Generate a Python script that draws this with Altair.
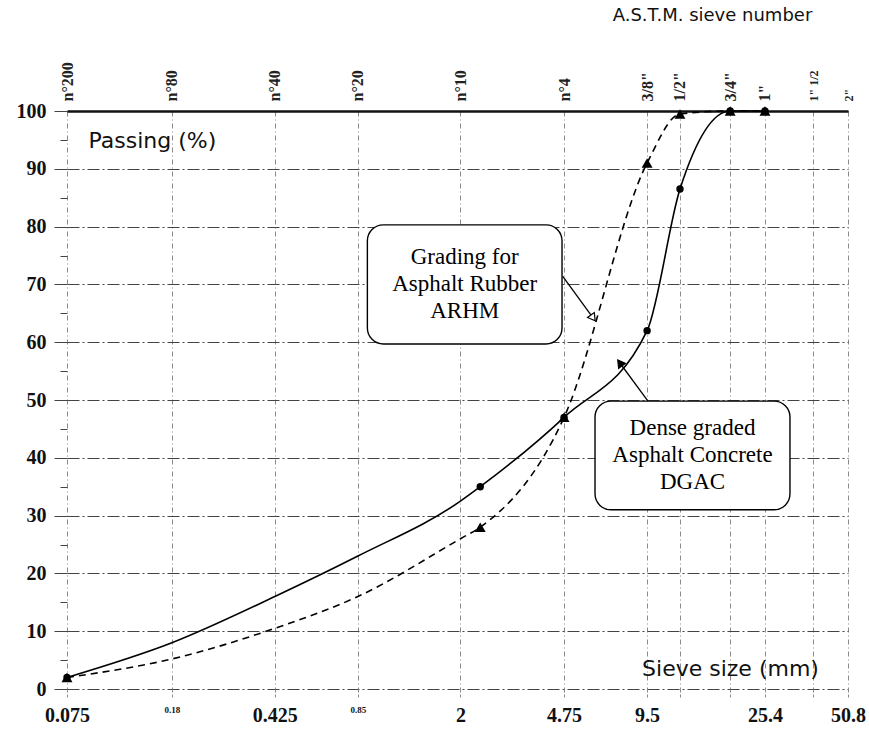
import math
import altair as alt
import pandas as pd

# ---------------- data ----------------
sieve_mm = [0.075, 0.18, 0.425, 0.85, 2, 2.36, 4.75, 9.5, 12.5, 19, 25.4]
dgac_pct = [2, 8, 16, 23, 32.5, 35, 47, 62, 86.5, 100, 100]
arhm_pct = [2, 5.2, 10.5, 16, 26, 28, 47, 91, 99.5, 100, 100]
measured = [True, False, False, False, False, True, True, True, True, True, True]

grid_sieves = [0.075, 0.18, 0.425, 0.85, 2, 4.75, 9.5, 12.5, 19, 25.4, 38, 50.8]
bottom_labels = ["0.075", "0.18", "0.425", "0.85", "2", "4.75", "9.5", "", "", "25.4", "", "50.8"]
small_bottom = ["0.18", "0.85"]
astm_labels = ["n°200", "n°80", "n°40", "n°20", "n°10", "n°4", '3/8"', '1/2"', '3/4"', '1"', '1" 1/2', '2"']
small_top = ['1" 1/2', '2"']
y_ticks = list(range(0, 101, 5))

# annotation boxes: sieve range, percent range, text
box_x1 = [0.92, 6.15]
box_x2 = [4.67, 31.3]
box_y1 = [59.7, 31.0]
box_y2 = [80.3, 49.8]
box_text = ["Grading for\nAsphalt Rubber\nARHM", "Dense graded\nAsphalt Concrete\nDGAC"]
# arrows: from (sx, sy) to (ex, ey)
arr_sx = [4.70, 9.57]
arr_sy = [71.4, 49.8]
arr_ex = [6.05, 7.57]
arr_ey = [64.2, 56.4]
arr_angle = [144, 324]
arr_fill = ["white", "black"]

# ---------------- tables ----------------
rows = []
for s, d, a, m in zip(sieve_mm, dgac_pct, arhm_pct, measured):
    rows.append({"series": "DGAC", "sieve": s, "pct": d, "measured": m})
    rows.append({"series": "ARHM", "sieve": s, "pct": a, "measured": m})
df = pd.DataFrame(rows)

boxes = pd.DataFrame({"x1": box_x1, "x2": box_x2, "y1": box_y1, "y2": box_y2, "text": box_text})
boxes["cx"] = [math.sqrt(a * b) for a, b in zip(box_x1, box_x2)]
boxes["cy"] = [(a + b) / 2 for a, b in zip(box_y1, box_y2)]
arrows = pd.DataFrame({"sx": arr_sx, "sy": arr_sy, "ex": arr_ex, "ey": arr_ey,
                       "angle": arr_angle, "fill": arr_fill})

xs = alt.Scale(type="log", domain=[0.075, 50.8], nice=False)
ys = alt.Scale(domain=[0, 100], nice=False)


def ternary(values, labels):
    expr = "''"
    for v, l in reversed(list(zip(values, labels))):
        expr = f"datum.value == {v} ? '{l}' : ({expr})"
    return expr


small_b_test = " || ".join(f"datum.value == {v}" for v, l in zip(grid_sieves, bottom_labels) if l in small_bottom)
small_t_test = " || ".join(f"datum.value == {v}" for v, l in zip(grid_sieves, astm_labels) if l in small_top)

bottom_axis = alt.Axis(
    orient="bottom", values=grid_sieves, labelExpr=ternary(grid_sieves, bottom_labels),
    grid=True, gridColor="#8a8a8a", gridDash=[5, 3, 1, 3], gridWidth=1,
    domain=False, ticks=True, tickSize=10, tickColor="#8a8a8a", tickDash=[3, 2],
    labelFont="Liberation Serif", labelFontWeight="bold", labelColor="#111",
    labelFontSize={"condition": {"test": small_b_test, "value": 9}, "value": 20},
    labelPadding=6, labelFlush=False, labelOverlap=False, labelBaseline="top",
    title="Sieve size (mm)", titleX=663, titleY=-21, titleAlign="center",
    titleBaseline="middle", titleFont="DejaVu Sans", titleFontSize=22,
    titleFontWeight="normal", titleColor="#111",
)

top_axis = alt.Axis(
    orient="top", values=grid_sieves, labelExpr=ternary(grid_sieves, astm_labels),
    grid=False, ticks=False, domain=True, domainColor="#111", domainWidth=2.5,
    labelAngle=270, labelAlign="left", labelBaseline="middle", labelPadding=10,
    labelFont="Liberation Serif", labelFontWeight="bold", labelColor="#222",
    labelFontSize={"condition": {"test": small_t_test, "value": 12}, "value": 16},
    labelFlush=False, labelOverlap=False,
    title="A.S.T.M. sieve number", titleX=645, titleY=-96, titleAlign="center",
    titleBaseline="middle", titleFont="DejaVu Sans", titleFontSize=18,
    titleFontWeight="normal", titleColor="#111",
)

left_axis = alt.Axis(
    orient="left", values=y_ticks, labelExpr="datum.value % 10 == 0 ? datum.label : ''",
    grid=True, gridColor="#444",
    gridOpacity={"condition": {"test": "datum.value % 10 == 0", "value": 1}, "value": 0},
    gridDash=[12, 3, 2, 3], gridWidth=1.1, domain=False,
    tickSize={"condition": {"test": "datum.value % 10 == 0", "value": 13}, "value": 7},
    tickColor="#444", labelFont="Liberation Serif", labelFontWeight="bold",
    labelFontSize=20, labelColor="#111", labelPadding=8,
    title="Passing (%)", titleAngle=0, titleX=21, titleY=29, titleAlign="left",
    titleBaseline="middle", titleFont="DejaVu Sans", titleFontSize=22,
    titleFontWeight="normal", titleColor="#111",
)

line_base = alt.Chart(df)

dgac_line = line_base.transform_filter("datum.series == 'DGAC'").mark_line(
    interpolate="monotone", color="black", strokeWidth=1.6
).encode(
    x=alt.X("sieve:Q", scale=xs, axis=bottom_axis),
    y=alt.Y("pct:Q", scale=ys, axis=left_axis),
)

arhm_line = line_base.transform_filter("datum.series == 'ARHM'").mark_line(
    interpolate="monotone", color="black", strokeWidth=1.6, strokeDash=[7, 5]
).encode(
    x=alt.X("sieve:Q", scale=xs, axis=top_axis),
    y=alt.Y("pct:Q", scale=ys, axis=None),
)

dgac_pts = line_base.transform_filter("datum.series == 'DGAC' && datum.measured").mark_point(
    shape="circle", filled=True, color="black", size=55, opacity=1
).encode(
    x=alt.X("sieve:Q", scale=xs, axis=None),
    y=alt.Y("pct:Q", scale=ys, axis=None),
)

arhm_pts = line_base.transform_filter("datum.series == 'ARHM' && datum.measured").mark_point(
    shape="triangle-up", filled=True, color="black", size=120, opacity=1
).encode(
    x=alt.X("sieve:Q", scale=xs, axis=None),
    y=alt.Y("pct:Q", scale=ys, axis=None),
)

box_layer = alt.Chart(boxes).mark_rect(
    fill="white", stroke="black", strokeWidth=1.4, cornerRadius=16
).encode(
    x=alt.X("x1:Q", scale=xs, axis=None), x2="x2:Q",
    y=alt.Y("y1:Q", scale=ys, axis=None), y2="y2:Q",
)

box_text_layer = alt.Chart(boxes).mark_text(
    font="Liberation Serif", fontSize=23, lineBreak="\n", lineHeight=27,
    align="center", baseline="middle", color="black", dy=-27
).encode(
    x=alt.X("cx:Q", scale=xs, axis=None),
    y=alt.Y("cy:Q", scale=ys, axis=None),
    text="text:N",
)

arrow_line = alt.Chart(arrows).mark_rule(color="black", strokeWidth=1.3).encode(
    x=alt.X("sx:Q", scale=xs, axis=None), x2="ex:Q",
    y=alt.Y("sy:Q", scale=ys, axis=None), y2="ey:Q",
)

arrow_head = alt.Chart(arrows).mark_point(
    shape="triangle-up", filled=True, stroke="black", strokeWidth=1.2, size=70, opacity=1
).encode(
    x=alt.X("ex:Q", scale=xs, axis=None),
    y=alt.Y("ey:Q", scale=ys, axis=None),
    angle=alt.Angle("angle:Q", scale=None),
    fill=alt.Fill("fill:N", scale=None),
)

chart = alt.layer(
    dgac_line, arhm_line, box_layer, box_text_layer, arrow_line, arrow_head,
    dgac_pts, arhm_pts,
).resolve_axis(x="independent", y="independent").properties(
    width=781, height=578,
    autosize=alt.AutoSizeParams(type="none"),
    padding={"left": 67, "top": 111, "right": 21, "bottom": 46},
    background="white",
).configure_view(stroke=None)

chart.save("out.html", embed_options={"renderer": "svg", "actions": False})
